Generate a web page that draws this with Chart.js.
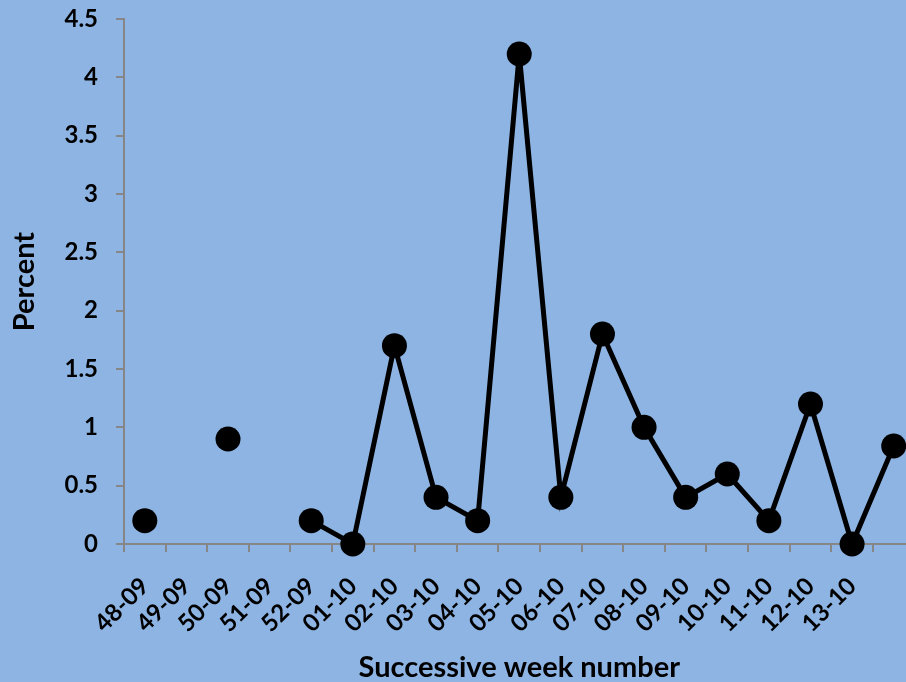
<!DOCTYPE html>
<html>
<head>
<meta charset="utf-8">
<script src="https://cdn.jsdelivr.net/npm/chart.js@4/dist/chart.umd.min.js"></script>
<style>
    html, body { margin: 0; padding: 0; overflow: hidden; background: #8DB4E2; }
    canvas { display: block; }
</style>
</head>
<body>
<canvas id="weekChart" width="927" height="682"></canvas>
<script>
const weekLabels = ["48-09", "49-09", "50-09", "51-09", "52-09", "01-10", "02-10", "03-10", "04-10",
    "05-10", "06-10", "07-10", "08-10", "09-10", "10-10", "11-10", "12-10", "13-10", ""];
const percentValues = [0.2, null, 0.9, null, 0.2, 0, 1.7, 0.4, 0.2,
    4.2, 0.4, 1.8, 1.0, 0.4, 0.6, 0.2, 1.2, 0, 0.84];
const yTickValues = [0, 0.5, 1, 1.5, 2, 2.5, 3, 3.5, 4, 4.5];

const axisGrey = "#868686";
const labelFont = { family: "Lato", weight: "bold", size: 24 };
const titleFont = { family: "Lato", weight: "bold", size: 29, lineHeight: 1 };

const weekChart = new Chart(document.getElementById("weekChart"), {
    type: "line",
    data: {
        labels: weekLabels,
        datasets: [{
            label: "Percent",
            data: percentValues,
            borderColor: "#000",
            borderWidth: 5,
            pointRadius: 12.5,
            pointHoverRadius: 12.5,
            pointBackgroundColor: "#000",
            pointBorderColor: "#000",
            pointBorderWidth: 0,
            tension: 0,
            spanGaps: false,
            clip: false
        }]
    },
    options: {
        responsive: false,
        animation: false,
        layout: { padding: { top: 19, right: 0, left: 0, bottom: 0 } },
        plugins: {
            legend: { display: false },
            tooltip: { enabled: false }
        },
        scales: {
            x: {
                offset: true,
                grid: {
                    offset: true,
                    drawOnChartArea: false,
                    drawTicks: true,
                    tickLength: 8,
                    color: axisGrey,
                    lineWidth: 2
                },
                border: { color: axisGrey, width: 2 },
                ticks: {
                    color: "#000",
                    font: labelFont,
                    minRotation: 45,
                    maxRotation: 45,
                    autoSkip: false,
                    padding: 20
                },
                title: {
                    display: true,
                    text: "Successive week number",
                    color: "#000",
                    font: titleFont,
                    padding: { top: 0, bottom: 0 }
                },
                afterFit(scale) {
                    scale.height = 138;
                    scale.paddingLeft = 0;
                    scale.paddingRight = 0;
                }
            },
            y: {
                min: 0,
                max: 4.5,
                grid: {
                    drawOnChartArea: false,
                    drawTicks: true,
                    tickLength: 8,
                    color: axisGrey,
                    lineWidth: 2
                },
                border: { color: axisGrey, width: 2 },
                afterBuildTicks(scale) {
                    scale.ticks = yTickValues.map(v => ({ value: v }));
                },
                ticks: {
                    color: "#000",
                    font: labelFont,
                    padding: 18,
                    callback: (value) => String(value)
                },
                title: {
                    display: true,
                    text: "Percent",
                    color: "#000",
                    font: titleFont,
                    padding: { top: 10, bottom: 10 }
                },
                afterFit(scale) {
                    scale.width = 124;
                    scale.paddingTop = 0;
                    scale.paddingBottom = 0;
                }
            }
        }
    }
});
</script>
</body>
</html>
